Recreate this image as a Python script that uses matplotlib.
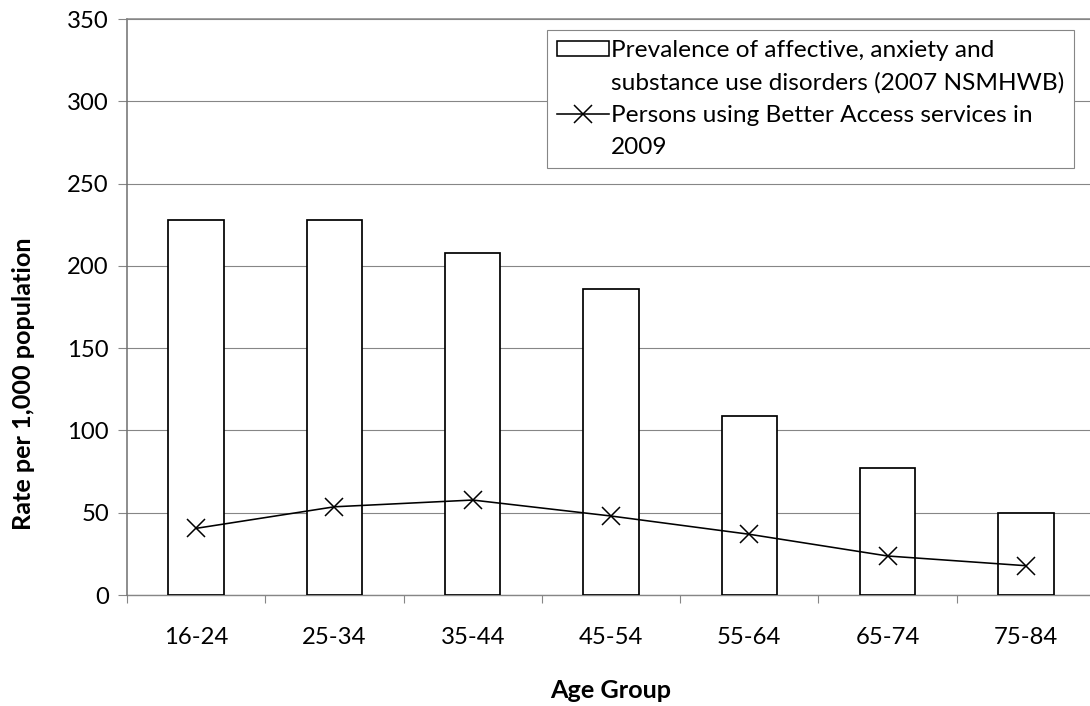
import matplotlib
matplotlib.use("Agg")
import matplotlib.pyplot as plt
from matplotlib.lines import Line2D
from matplotlib.patches import Rectangle
import numpy as np

# ---- data ----
age_groups = ["16-24", "25-34", "35-44", "45-54", "55-64", "65-74", "75-84"]
prevalence = [228, 228, 208, 186, 109, 77, 50]
better_access = [40.5, 53.6, 57.7, 48.0, 36.9, 23.7, 17.8]
legend_lines = ["Prevalence of affective, anxiety and",
                "substance use disorders (2007 NSMHWB)",
                "Persons using Better Access services in",
                "2009"]
y_ticks = [0, 50, 100, 150, 200, 250, 300, 350]
y_label = "Rate per 1,000 population"
x_label = "Age Group"

plt.rcParams['font.family'] = ['Lato', 'DejaVu Sans']
FS_TICK = 17.2
FS_LEG = 17.55
FS_LAB = 18.2
W, H = 1090, 706
fig = plt.figure(figsize=(W / 100, H / 100), dpi=100)
# plot area: x 127..1095 px, y 19..595 px (extends slightly past right edge)
ax = fig.add_axes([127 / W, (H - 595) / H, 968 / W, 576 / H])

x = np.arange(len(age_groups))
grid_c = "#868686"

ax.bar(x, prevalence, width=0.4, facecolor="white", edgecolor="black",
       linewidth=1.25, zorder=3)
ax.plot(x, better_access, color="black", linewidth=1.15, marker="x",
        markersize=13, markeredgewidth=1.1, zorder=4)

ax.set_xlim(-0.5, len(age_groups) - 0.5)
ax.set_ylim(0, 350)
ax.set_yticks(y_ticks)
ax.yaxis.grid(True, color=grid_c, linewidth=0.8, zorder=0)
ax.set_axisbelow(True)

ax.set_xticks(x)
ax.set_xticklabels(age_groups)
ax.set_xticks(np.arange(-0.5, len(age_groups) + 0.5, 1.0), minor=True)
ax.tick_params(axis="x", which="major", length=0, pad=23, labelsize=FS_TICK)
ax.tick_params(axis="x", which="minor", length=6, width=0.8, color=grid_c,
               direction="out")
ax.tick_params(axis="y", which="major", length=6.5, width=0.8, color=grid_c,
               direction="out", pad=6.5, labelsize=FS_TICK)

ax.spines["right"].set_visible(False)
ax.spines["top"].set_color(grid_c)
ax.spines["top"].set_linewidth(1.1)
ax.spines["left"].set_color("#6f6f6f")
ax.spines["left"].set_linewidth(1.1)
ax.spines["bottom"].set_color(grid_c)
ax.spines["bottom"].set_linewidth(1.0)
ax.spines["bottom"].set_zorder(2)

# axis titles
ax.set_xlabel(x_label, fontsize=FS_LAB, fontweight="bold", va="center")
ax.xaxis.set_label_coords(0.5, (595 - 690) / 576)
fig.text(24 / W, (H - 237) / H, y_label, rotation=90, ha="center", va="top",
         fontsize=FS_LAB, fontweight="bold")

# legend
h_bar = Rectangle((0, 0), 1, 1, facecolor="white", edgecolor="black", linewidth=1.15)
h_line = Line2D([], [], color="black", linewidth=1.15, marker="x",
                markersize=13, markeredgewidth=1.1)
h_none = Line2D([], [], linestyle="none")
leg = ax.legend([h_bar, h_none, h_line, h_none], legend_lines,
                loc="upper right",
                bbox_to_anchor=((1074 - 127) / 968, (595 - 30) / 576),
                borderaxespad=0, fontsize=FS_LEG, frameon=True, fancybox=False,
                framealpha=1, edgecolor=grid_c, handlelength=2.12,
                handleheight=0.53, handletextpad=0.08, labelspacing=0.45,
                borderpad=0.42)
leg.get_frame().set_linewidth(0.8)
leg.set_zorder(5)

fig.savefig("out.png", dpi=100, facecolor="white")
